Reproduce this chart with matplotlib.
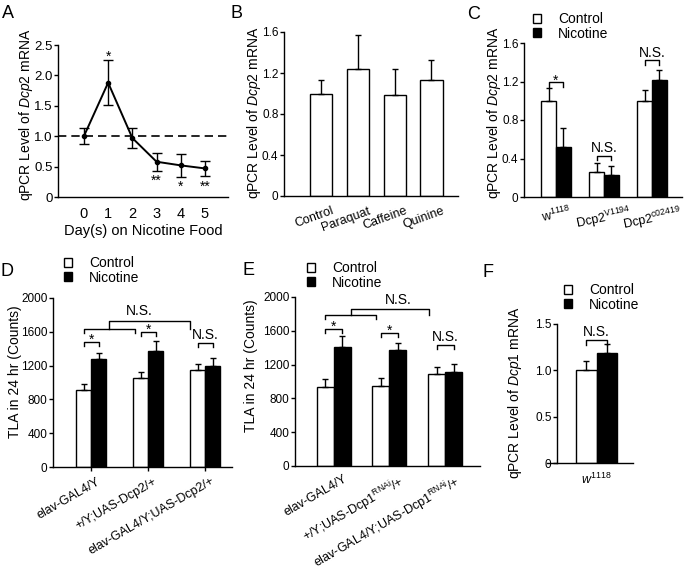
import matplotlib
matplotlib.use('Agg')
import matplotlib.pyplot as plt
import matplotlib.transforms as mtransforms
from matplotlib.patches import Patch
import numpy as np

plt.rcParams['font.family'] = ['Liberation Sans', 'DejaVu Sans']
plt.rcParams['mathtext.fontset'] = 'custom'
plt.rcParams['mathtext.rm'] = 'Liberation Sans'
plt.rcParams['mathtext.it'] = 'Liberation Sans:italic'
plt.rcParams['mathtext.bf'] = 'Liberation Sans:bold'
plt.rcParams['axes.linewidth'] = 1.0

## Panel A: Dcp2 mRNA over days on nicotine food
a_days = [0, 1, 2, 3, 4, 5]
a_mean = [1.00, 1.88, 0.97, 0.58, 0.52, 0.47]
a_err = [0.13, 0.37, 0.16, 0.15, 0.19, 0.13]
a_sig = ['', '*', '', '**', '*', '**']
a_sig_below = [False, False, False, True, True, True]

## Panel B: other treatments
b_labels = ['Control', 'Paraquat', 'Caffeine', 'Quinine']
b_mean = [1.00, 1.24, 0.99, 1.13]
b_err = [0.13, 0.33, 0.25, 0.20]

## Panel C: Dcp2 mutants
c_labels = ['w$^{1118}$', 'Dcp2$^{\\mathrm{V1194}}$', 'Dcp2$^{\\mathrm{c02419}}$']
c_ctrl = [1.00, 0.26, 1.00]
c_ctrl_err = [0.13, 0.09, 0.11]
c_nic = [0.52, 0.23, 1.22]
c_nic_err = [0.20, 0.09, 0.10]
c_sig = ['*', 'N.S.', 'N.S.']
c_sig_y = [1.19, 0.43, 1.42]

## Panel D: TLA with Dcp2 overexpression
d_labels = ['elav-GAL4/Y', '+/Y;UAS-Dcp2/+', 'elav-GAL4/Y;UAS-Dcp2/+']
d_ctrl = [910, 1053, 1148]
d_ctrl_err = [70, 70, 70]
d_nic = [1275, 1373, 1195]
d_nic_err = [75, 115, 92]
d_sig = ['*', '*', 'N.S.']
d_sig_y = [1480, 1600, 1467]

## Panel E: TLA with Dcp1 RNAi
e_labels = ['elav-GAL4/Y', '+/Y;UAS-Dcp1$^{\\mathrm{RNAi}}$/+',
            'elav-GAL4/Y;UAS-Dcp1$^{\\mathrm{RNAi}}$/+']
e_ctrl = [935, 947, 1089]
e_ctrl_err = [95, 90, 83]
e_nic = [1408, 1373, 1112]
e_nic_err = [130, 83, 95]
e_sig = ['*', '*', 'N.S.']
e_sig_y = [1620, 1574, 1432]

## Panel F: Dcp1 mRNA
f_labels = ['$\\mathit{w}^{\\mathit{1118}}$']
f_ctrl = [1.00]
f_ctrl_err = [0.10]
f_nic = [1.19]
f_nic_err = [0.09]
f_sig = ['N.S.']
f_sig_y = [1.33]

W, H = 687, 577
fig = plt.figure(figsize=(W / 100, H / 100), dpi=100)


def add_ax(left, top, right, bottom):
    # pixel box -> figure fraction
    return fig.add_axes([left / W, 1 - bottom / H, (right - left) / W, (bottom - top) / H])


def style(ax):
    ax.spines['top'].set_visible(False)
    ax.spines['right'].set_visible(False)
    ax.tick_params(axis='y', direction='out', length=3, width=1, pad=1, labelsize=8.5)
    ax.tick_params(axis='x', direction='out', length=3, width=1, labelsize=9)


def bracket(ax, x1, x2, y, h, text, off):
    ax.plot([x1, x1, x2, x2], [y - h, y, y, y - h], color='black', lw=1.0, clip_on=False)
    if text:
        ax.annotate(text, xy=((x1 + x2) / 2, y), xytext=(0, off), textcoords='offset points',
                    ha='center', va='bottom', fontsize=10)


def pair_bars(ax, ctrl, ctrl_err, nic, nic_err, width, cap):
    x = np.arange(len(ctrl))
    ek = dict(ecolor='black', elinewidth=1.0, capthick=1.0)
    ax.bar(x - width / 2, ctrl, width, color='white', edgecolor='black', lw=1.0,
           yerr=[np.zeros(len(ctrl)), ctrl_err], capsize=cap, error_kw=ek, zorder=2)
    ax.bar(x + width / 2, nic, width, color='black', edgecolor='black', lw=1.0,
           yerr=[np.zeros(len(nic)), nic_err], capsize=cap, error_kw=ek, zorder=2)
    return x


def legend(ax, left, top):
    handles = [Patch(facecolor='white', edgecolor='black', lw=1.0),
               Patch(facecolor='black', edgecolor='black', lw=1.0)]
    ax.legend(handles, ['Control', 'Nicotine'], loc='upper left',
              bbox_to_anchor=(left / W, 1 - top / H), bbox_transform=fig.transFigure,
              frameon=False, fontsize=10, handlelength=0.6, handleheight=0.6,
              handletextpad=1.2, labelspacing=0.05, borderpad=0, borderaxespad=0)


def shift_labels(ax, dx, dy=0):
    off = mtransforms.ScaledTranslation(dx / 100, dy / 100, fig.dpi_scale_trans)
    for t in ax.get_xticklabels():
        t.set_transform(t.get_transform() + off)


def ylab(x, y, text):
    fig.text(x / W, 1 - y / H, text, rotation=90, ha='center', va='center', fontsize=10)


def letter(x, y, s):
    fig.text(x / W, 1 - y / H, s, ha='left', va='top', fontsize=13)


# ---- A ----
ax = add_ax(58, 45, 228, 197)
ax.errorbar(a_days, a_mean, yerr=a_err, color='black', lw=1.4, marker='o', ms=3,
            capsize=3.5, elinewidth=1.0, capthick=1.0)
ax.axhline(1.0, color='black', lw=1.2, ls=(0, (5, 3)))
for d, m, e, s, below in zip(a_days, a_mean, a_err, a_sig, a_sig_below):
    if not s:
        continue
    if below:
        ax.text(d, m - e - 0.05, s, ha='center', va='top', fontsize=10)
    else:
        ax.text(d, m + e - 0.06, s, ha='center', va='bottom', fontsize=10)
ax.set_xlim(-1.07, 5.95)
ax.set_ylim(0, 2.5)
ax.set_yticks([0, 0.5, 1.0, 1.5, 2.0, 2.5])
ax.set_yticklabels(['0', '0.5', '1.0', '1.5', '2.0', '2.5'])
ax.set_xticks(a_days)
style(ax)
ax.tick_params(axis='y', labelsize=9.5)
ax.tick_params(axis='x', length=0, pad=7, labelsize=10.5)
ax.set_xlabel('Day(s) on Nicotine Food', fontsize=10.5, labelpad=2)
ylab(26, 115, 'qPCR Level of $\\mathit{Dcp2}$ mRNA')
letter(2, 5, 'A')

# ---- B ----
ax = add_ax(284, 32, 458, 196)
xb = np.arange(len(b_mean))
ax.bar(xb, b_mean, 0.6, color='white', edgecolor='black', lw=1.0,
       yerr=[np.zeros(len(b_mean)), b_err], capsize=2.5,
       error_kw=dict(ecolor='black', elinewidth=1.0, capthick=1.0))
ax.set_xlim(-1.0, 3.72)
ax.set_ylim(0, 1.6)
ax.set_yticks([0, 0.4, 0.8, 1.2, 1.6])
ax.set_yticklabels(['0', '0.4', '0.8', '1.2', '1.6'])
ax.set_xticks(xb)
ax.set_xticklabels(b_labels, rotation=20, ha='right', rotation_mode='anchor')
style(ax)
ax.tick_params(axis='x', length=0, pad=5)
shift_labels(ax, 10, -2)
ylab(254, 113, 'qPCR Level of $\\mathit{Dcp2}$ mRNA')
letter(231, 5, 'B')

# ---- C ----
ax = add_ax(524, 43, 682, 197)
xc = pair_bars(ax, c_ctrl, c_ctrl_err, c_nic, c_nic_err, 0.31, 2.5)
for i, (s, y) in enumerate(zip(c_sig, c_sig_y)):
    bracket(ax, i - 0.155, i + 0.155, y, 0.045, s, -3.5 if s == '*' else 0.5)
ax.set_xlim(-0.667, 2.625)
ax.set_ylim(0, 1.6)
ax.set_yticks([0, 0.4, 0.8, 1.2, 1.6])
ax.set_yticklabels(['0', '0.4', '0.8', '1.2', '1.6'])
ax.set_xticks(xc)
ax.set_xticklabels(c_labels, rotation=12, ha='center', fontsize=9.5)
style(ax)
ax.tick_params(axis='x', length=0, pad=5)
legend(ax, 533, 12)
ylab(494, 113, 'qPCR Level of $\\mathit{Dcp2}$ mRNA')
letter(467, 6, 'C')

# ---- D ----
ax = add_ax(53, 298, 232, 467)
w = 0.263
xd = pair_bars(ax, d_ctrl, d_ctrl_err, d_nic, d_nic_err, w, 2.5)
for i, (s, y) in enumerate(zip(d_sig, d_sig_y)):
    bracket(ax, i - w / 2, i + w / 2, y, 50, s, -3.5 if s == '*' else 0.5)
# grouped comparison bracket
lo_y, hi_y = 1633, 1728
x1, x2 = -w / 2, 1 - w / 2 - 0.1
bracket(ax, x1, x2, lo_y, 50, '', 0)
bracket(ax, (x1 + x2) / 2, 2 - w / 2 - 0.13, hi_y, hi_y - lo_y, '', 0)
ax.text(0.85, hi_y + 40, 'N.S.', ha='center', va='bottom', fontsize=10)
ax.set_xlim(-0.667, 2.47)
ax.set_ylim(0, 2000)
ax.set_yticks([0, 400, 800, 1200, 1600, 2000])
ax.set_xticks(xd)
ax.set_xticklabels(d_labels, rotation=30, ha='right', rotation_mode='anchor')
style(ax)
ax.tick_params(axis='x', pad=3)
shift_labels(ax, 5)
legend(ax, 64, 256)
ylab(15, 372, 'TLA in 24 hr (Counts)')
letter(1, 263, 'D')

# ---- E ----
ax = add_ax(295, 297, 480, 466)
w = 0.306
xe = pair_bars(ax, e_ctrl, e_ctrl_err, e_nic, e_nic_err, w, 2.5)
for i, (s, y) in enumerate(zip(e_sig, e_sig_y)):
    bracket(ax, i - w / 2, i + w / 2, y, 50, s, -3.5 if s == '*' else 0.5)
lo_y, hi_y = 1787, 1858
x1, x2 = -w / 2, 1 - w / 2 - 0.09
bracket(ax, x1, x2, lo_y, 50, '', 0)
bracket(ax, (x1 + x2) / 2, 2 - w / 2 - 0.13, hi_y, hi_y - lo_y, '', 0)
ax.text(1.15, hi_y + 20, 'N.S.', ha='center', va='bottom', fontsize=10)
ax.set_xlim(-0.70, 2.63)
ax.set_ylim(0, 2000)
ax.set_yticks([0, 400, 800, 1200, 1600, 2000])
ax.set_xticks(xe)
ax.set_xticklabels(e_labels, rotation=30, ha='right', rotation_mode='anchor')
style(ax)
ax.tick_params(axis='x', length=0, pad=5)
shift_labels(ax, 9)
legend(ax, 307, 261)
ylab(251, 366, 'TLA in 24 hr (Counts)')
letter(243, 262, 'E')

# ---- F ----
ax = add_ax(547, 324, 633, 463)
w = 0.4
xf = pair_bars(ax, f_ctrl, f_ctrl_err, f_nic, f_nic_err, w, 2.5)
for i, (s, y) in enumerate(zip(f_sig, f_sig_y)):
    bracket(ax, i - w / 2, i + w / 2, y, 0.055, s, 0.5)
ax.set_xlim(-0.98, 0.72)
ax.set_ylim(0, 1.5)
ax.spines['left'].set_position(('data', -0.78))
ax.set_yticks([0, 0.5, 1.0, 1.5])
ax.set_yticklabels(['0', '0.5', '1.0', '1.5'])
ax.set_xticks(xf)
ax.set_xticklabels(f_labels, fontsize=10)
style(ax)
ax.tick_params(axis='x', length=0, pad=6)
legend(ax, 564, 283)
ylab(515, 393, 'qPCR Level of $\\mathit{Dcp1}$ mRNA')
letter(482, 264, 'F')

fig.savefig('out.png', dpi=100)
